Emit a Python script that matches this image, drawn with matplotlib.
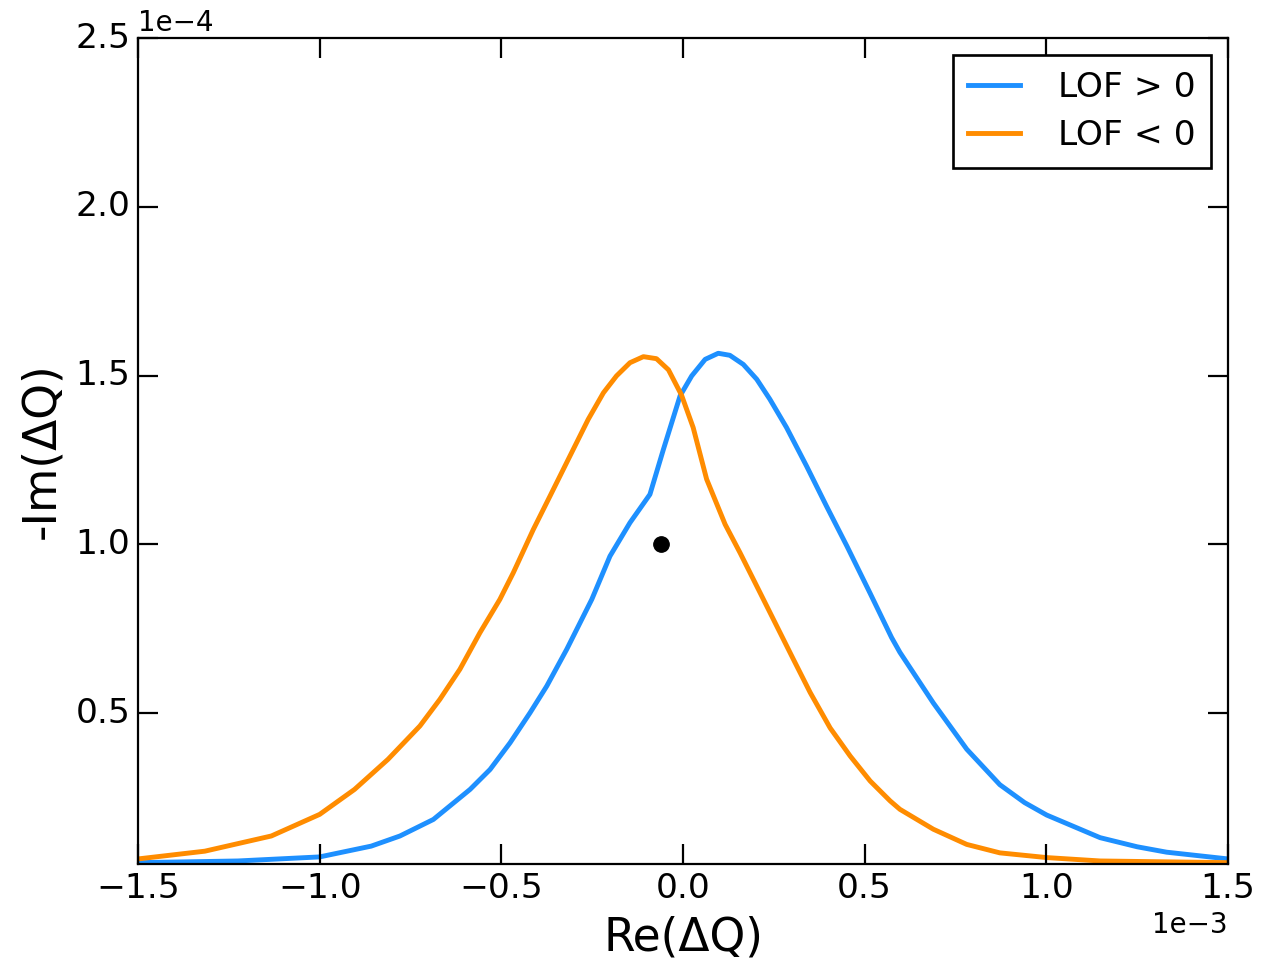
import numpy as np
import matplotlib
matplotlib.use("Agg")
import matplotlib.pyplot as plt

# values (x in 1e-3, y in 1e-4)
x_pos = [-1.5, -1.225, -1.0, -0.858, -0.779, -0.687, -0.586, -0.531, -0.476, -0.421,
         -0.375, -0.320, -0.251, -0.201, -0.146, -0.091, -0.054, -0.008, 0.024, 0.061,
         0.097, 0.129, 0.166, 0.203, 0.239, 0.285, 0.340, 0.395, 0.451, 0.515,
         0.574, 0.597, 0.689, 0.781, 0.872, 0.94, 1.001, 1.148, 1.25, 1.331, 1.5]
y_pos = [0.057, 0.062, 0.074, 0.106, 0.136, 0.185, 0.274, 0.333, 0.412, 0.501,
         0.580, 0.689, 0.837, 0.965, 1.064, 1.148, 1.281, 1.440, 1.499, 1.548,
         1.566, 1.560, 1.533, 1.489, 1.430, 1.346, 1.232, 1.113, 0.995, 0.855,
         0.724, 0.680, 0.530, 0.393, 0.288, 0.235, 0.198, 0.131, 0.104, 0.088, 0.068]

x_neg = [-1.5, -1.316, -1.133, -1.0, -0.904, -0.812, -0.724, -0.669, -0.614, -0.559,
         -0.504, -0.467, -0.412, -0.366, -0.311, -0.261, -0.219, -0.183, -0.146, -0.109,
         -0.073, -0.040, -0.004, 0.028, 0.065, 0.116, 0.157, 0.212, 0.304, 0.350,
         0.405, 0.460, 0.515, 0.570, 0.597, 0.689, 0.781, 0.872, 1.001, 1.148, 1.5]
y_neg = [0.068, 0.091, 0.136, 0.200, 0.274, 0.363, 0.462, 0.541, 0.630, 0.738,
         0.837, 0.916, 1.044, 1.143, 1.262, 1.370, 1.449, 1.499, 1.538, 1.556,
         1.550, 1.517, 1.442, 1.346, 1.193, 1.059, 0.975, 0.857, 0.659, 0.561,
         0.456, 0.373, 0.299, 0.240, 0.215, 0.156, 0.111, 0.086, 0.072, 0.062, 0.057]

dot_x = [-0.06]
dot_y = [1.0]

plt.style.use("classic")
plt.rcParams["font.family"] = ["DejaVu Sans"]

fig = plt.figure(figsize=(1285 / 160, 962 / 160), dpi=160, facecolor="white")
ax = fig.add_axes([138 / 1285, 1 - 864 / 962, (1228 - 138) / 1285, (864 - 38) / 962])

ax.plot(np.array(x_pos) * 1e-3, np.array(y_pos) * 1e-4, color="#1E90FF", lw=2.2,
        label="LOF > 0")
ax.plot(np.array(x_neg) * 1e-3, np.array(y_neg) * 1e-4, color="#FF8C00", lw=2.2,
        label="LOF < 0")
ax.plot(np.array(dot_x) * 1e-3, np.array(dot_y) * 1e-4, "o", color="k", ms=7, mec="k")

ax.set_xlim(-1.5e-3, 1.5e-3)
ax.set_ylim(0.053e-4, 2.5e-4)
ax.set_xticks(np.arange(-1.5, 1.51, 0.5) * 1e-3)
ax.set_yticks(np.arange(0.5, 2.51, 0.5) * 1e-4)
ax.ticklabel_format(style="sci", axis="both", scilimits=(0, 0))
ax.tick_params(labelsize=15.5, length=9, width=1, pad=3.5)
ax.xaxis.get_offset_text().set_fontsize(12.5)
ax.yaxis.get_offset_text().set_fontsize(12.5)

ax.set_xlabel("Re(ΔQ)", fontsize=20.5)
ax.set_ylabel("-Im(ΔQ)", fontsize=20.5)

leg = ax.legend(loc="upper right", fontsize=15.5, numpoints=1, handlelength=1.5,
                handletextpad=1.1, borderpad=0.45, labelspacing=0.45)
leg.get_frame().set_linewidth(1.2)

fig.savefig("out.png", dpi=160, facecolor="white")
